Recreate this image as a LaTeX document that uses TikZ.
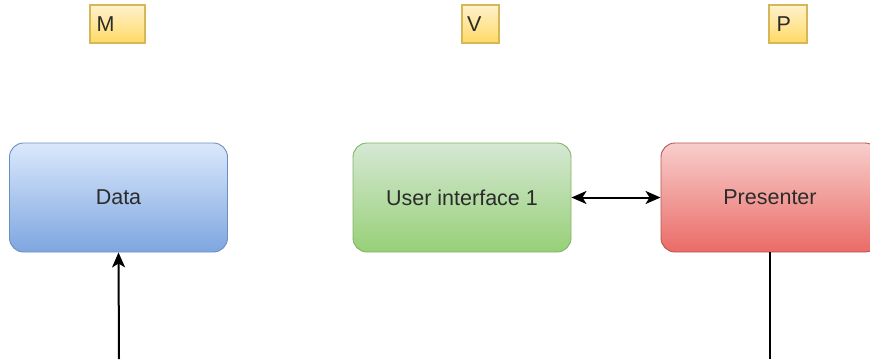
\documentclass[tikz,border=0pt]{standalone}
\usepackage{fontspec}
\setmainfont{Liberation Sans}
\usetikzlibrary{arrows.meta}
\definecolor{txt}{HTML}{2B2B2B}
\tikzset{
  block/.style={rounded corners=14pt, minimum width=218pt, minimum height=109pt,
    line width=0.9pt, font=\fontsize{21.5}{25}\selectfont, text=txt, inner sep=0pt},
  bluebox/.style={block, draw={rgb,255:red,108;green,142;blue,191},
    top color={rgb,255:red,218;green,232;blue,252}, bottom color={rgb,255:red,126;green,166;blue,224}},
  greenbox/.style={block, draw={rgb,255:red,130;green,179;blue,102},
    top color={rgb,255:red,213;green,232;blue,212}, bottom color={rgb,255:red,151;green,208;blue,119}},
  redbox/.style={block, draw={rgb,255:red,184;green,84;blue,80},
    top color={rgb,255:red,248;green,206;blue,204}, bottom color={rgb,255:red,234;green,107;blue,102}},
  tag/.style={draw={rgb,255:red,214;green,182;blue,86}, line width=1.1pt,
    top color={rgb,255:red,255;green,242;blue,204}, bottom color={rgb,255:red,255;green,217;blue,102},
    minimum height=38pt, inner sep=0pt, font=\fontsize{21.5}{25}\selectfont, text=txt, align=left},
  head/.tip={Stealth[length=15pt, width=13pt, inset=4pt]},
  link/.style={line width=2pt, black}
}
\begin{document}
\begin{tikzpicture}[x=1pt, y=-1pt]
  \useasboundingbox (0,0) rectangle (870,359);
  \clip (0,0) rectangle (870,359);

  % layer tags
  \node[tag, minimum width=55pt, text width=48pt] (tagM) at (117.5,24) {\hspace*{3pt}M};
  \node[tag, minimum width=37pt, text width=33pt] (tagV) at (480.5,24) {\hspace*{3pt}V};
  \node[tag, minimum width=38pt, text width=33pt] (tagP) at (788,24) {\hspace*{5pt}P};

  % components
  \node[bluebox]  (data) at (118.5,197.5) {Data};
  \node[greenbox] (ui)   at (462,197.5)   {User interface 1};
  \node[redbox]   (pres) at (770,197.5)   {Presenter};

  % connectors
  \coordinate (dataIn)  at (119,359);
  \coordinate (presOut) at (770,359);
  \draw[link, head-head] (ui.east) -- (pres.west);
  \draw[link, -head] (dataIn) -- (data.south);
  \draw[link] (pres.south) -- (presOut);
\end{tikzpicture}
\end{document}
